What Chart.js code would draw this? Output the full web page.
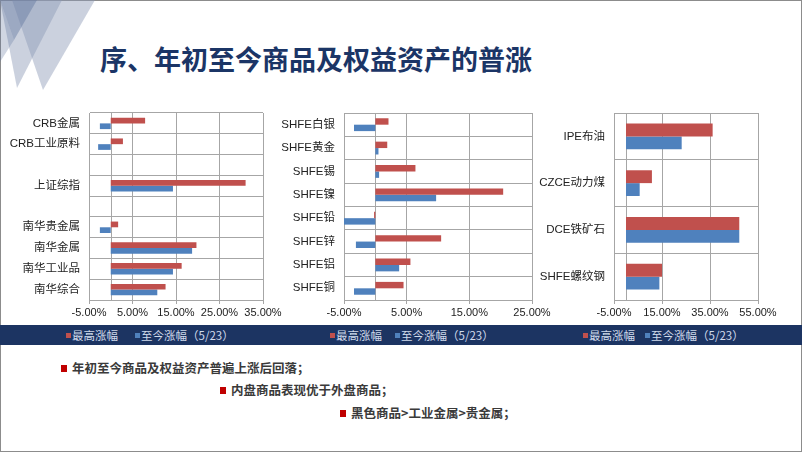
<!DOCTYPE html>
<html>
<head>
<meta charset="utf-8">
<script src="https://cdn.jsdelivr.net/npm/chart.js@4"></script>
<style>
    body { margin: 0; width: 802px; height: 452px; overflow: hidden; background: #fff;
           font-family: "Liberation Sans", "Noto Sans CJK SC", sans-serif; }
    #slide { position: absolute; left: 0; top: 0; width: 800px; height: 450px; border: 1px solid #8c8c8c; }
    #deco { position: absolute; left: 0; top: 0; }
    #title { position: absolute; left: 100px; top: 39px; font-size: 27px; font-weight: 700; color: #1b3566;
             font-family: "Noto Sans CJK SC", sans-serif; white-space: nowrap; }
    .box { position: absolute; top: 105px; }
    .band { position: absolute; left: 0; top: 325px; width: 802px; height: 20px; background: #1c3462; }
    .lg { position: absolute; top: 327px; font-size: 11.5px; color: #d0dbec; white-space: nowrap;
          font-family: "Noto Sans CJK SC", sans-serif; line-height: 16px; }
    .sq { position: absolute; top: 333px; width: 5px; height: 5px; }
    .bul { position: absolute; font-size: 12.5px; font-weight: 700; color: #3a3a3a;
           font-family: "Noto Sans CJK SC", sans-serif; white-space: nowrap; line-height: 16px; }
    .bsq { position: absolute; width: 6px; height: 7px; background: #c00000; }
</style>
</head>
<body>
<div id="slide"></div>
<svg id="deco" width="110" height="100">
    <polygon points="0,0 62,0 17,88" fill="rgba(139,154,182,0.45)"/>
    <polygon points="12,0 95,0 43,90" fill="rgba(139,154,182,0.45)"/>
    <polygon points="0,0 37,0 14,40" fill="rgba(100,120,160,0.45)"/>
    <polygon points="0,0 0,62 14,40" fill="rgba(100,120,160,0.3)"/>
</svg>
<div id="title">序、年初至今商品及权益资产的普涨</div>

<div class="box" style="left:0px"><canvas id="c1" width="285" height="220"></canvas></div>
<div class="box" style="left:255px"><canvas id="c2" width="300" height="220"></canvas></div>
<div class="box" style="left:525px"><canvas id="c3" width="262" height="220"></canvas></div>

<div class="band"></div>
<div class="sq" style="left:66px;background:#c0504d"></div><div class="lg" style="left:72px">最高涨幅</div>
<div class="sq" style="left:135px;background:#4f81bd"></div><div class="lg" style="left:141px">至今涨幅（5/23）</div>
<div class="sq" style="left:330px;background:#c0504d"></div><div class="lg" style="left:336px">最高涨幅</div>
<div class="sq" style="left:395px;background:#4f81bd"></div><div class="lg" style="left:401px">至今涨幅（5/23）</div>
<div class="sq" style="left:583px;background:#c0504d"></div><div class="lg" style="left:589px">最高涨幅</div>
<div class="sq" style="left:645px;background:#4f81bd"></div><div class="lg" style="left:651px">至今涨幅（5/23）</div>

<div class="bsq" style="left:61px;top:365px"></div><div class="bul" style="left:72px;top:360px">年初至今商品及权益资产普遍上涨后回落；</div>
<div class="bsq" style="left:220px;top:387px"></div><div class="bul" style="left:231px;top:382px">内盘商品表现优于外盘商品；</div>
<div class="bsq" style="left:340px;top:410px"></div><div class="bul" style="left:351px;top:405px">黑色商品&gt;工业金属&gt;贵金属；</div>

<script>
// chart 1: indices
const cats1 = ['CRB金属', 'CRB工业原料', '', '上证综指', '', '南华贵金属', '南华金属', '南华工业品', '南华综合'];
const high1 = [7.9, 2.8, null, 31.0, null, 1.7, 19.7, 16.3, 12.6];
const ytd1 = [-2.5, -2.9, null, 14.3, null, -2.5, 18.7, 14.3, 10.7];

// chart 2: SHFE metals
const cats2 = ['SHFE白银', 'SHFE黄金', 'SHFE锡', 'SHFE镍', 'SHFE铅', 'SHFE锌', 'SHFE铝', 'SHFE铜'];
const high2 = [2.1, 1.9, 6.4, 20.4, -0.2, 10.5, 5.6, 4.5];
const ytd2 = [-3.4, 0.5, 0.6, 9.7, -5.0, -3.1, 3.8, -3.4];

// chart 3: energy / black
const cats3 = ['IPE布油', 'CZCE动力煤', 'DCE铁矿石', 'SHFE螺纹钢'];
const high3 = [36.1, 10.8, 47.2, 15.0];
const ytd3 = [23.2, 5.7, 47.2, 13.9];

// x axis ranges [min, max, step]
const axis1 = [-5, 35, 10];
const axis2 = [-5, 25, 10];
const axis3 = [-5, 55, 20];

const seriesNames = ['最高涨幅', '至今涨幅（5/23）'];
const RED = '#c0504d';
const BLUE = '#4f81bd';
const GRID = '#a6a6a6';
const FAMILY = '"Liberation Sans", "Noto Sans CJK SC", sans-serif';

// vertical line at 0 (category axis crossing)
const zeroLine = {
    id: 'zeroLine',
    beforeDatasetsDraw(chart) {
        const x = Math.round(chart.scales.x.getPixelForValue(0)) + 0.5;
        const { top, bottom } = chart.chartArea;
        const ctx = chart.ctx;
        ctx.save();
        ctx.strokeStyle = GRID;
        ctx.lineWidth = 1;
        ctx.beginPath();
        ctx.moveTo(x, top);
        ctx.lineTo(x, bottom);
        ctx.stroke();
        ctx.restore();
    }
};

function makeChart(id, cats, high, ytd, ax, yWidth, padRight) {
    const ctx = document.getElementById(id).getContext('2d');
    return new Chart(ctx, {
        type: 'bar',
        data: {
            labels: cats,
            datasets: [
                { label: seriesNames[0], data: high, backgroundColor: RED },
                { label: seriesNames[1], data: ytd, backgroundColor: BLUE }
            ]
        },
        options: {
            indexAxis: 'y',
            responsive: false,
            animation: false,
            barPercentage: 1,
            categoryPercentage: 0.55,
            layout: { padding: { top: 8, right: padRight, bottom: 5, left: 0 } },
            plugins: { legend: { display: false }, tooltip: { enabled: false } },
            scales: {
                x: {
                    min: ax[0],
                    max: ax[1],
                    afterFit: s => { s.height = 20; },
                    ticks: {
                        stepSize: ax[2],
                        autoSkip: false,
                        color: '#222',
                        font: { family: FAMILY, size: 11 },
                        padding: 2,
                        maxRotation: 0,
                        callback: v => v.toFixed(2) + '%'
                    },
                    grid: { color: GRID, tickLength: 4 },
                    border: { color: GRID }
                },
                y: {
                    afterFit: s => { s.width = yWidth; },
                    ticks: { color: '#222', font: { family: FAMILY, size: 11.5 }, padding: 0, autoSkip: false },
                    grid: { color: GRID, offset: true, tickLength: 9, tickColor: 'rgba(0,0,0,0)' },
                    border: { color: GRID }
                }
            }
        },
        plugins: [zeroLine]
    });
}

makeChart('c1', cats1, high1, ytd1, axis1, 89, 22);
makeChart('c2', cats2, high2, ytd2, axis2, 89, 23);
makeChart('c3', cats3, high3, ytd3, axis3, 89, 29);
</script>
</body>
</html>
